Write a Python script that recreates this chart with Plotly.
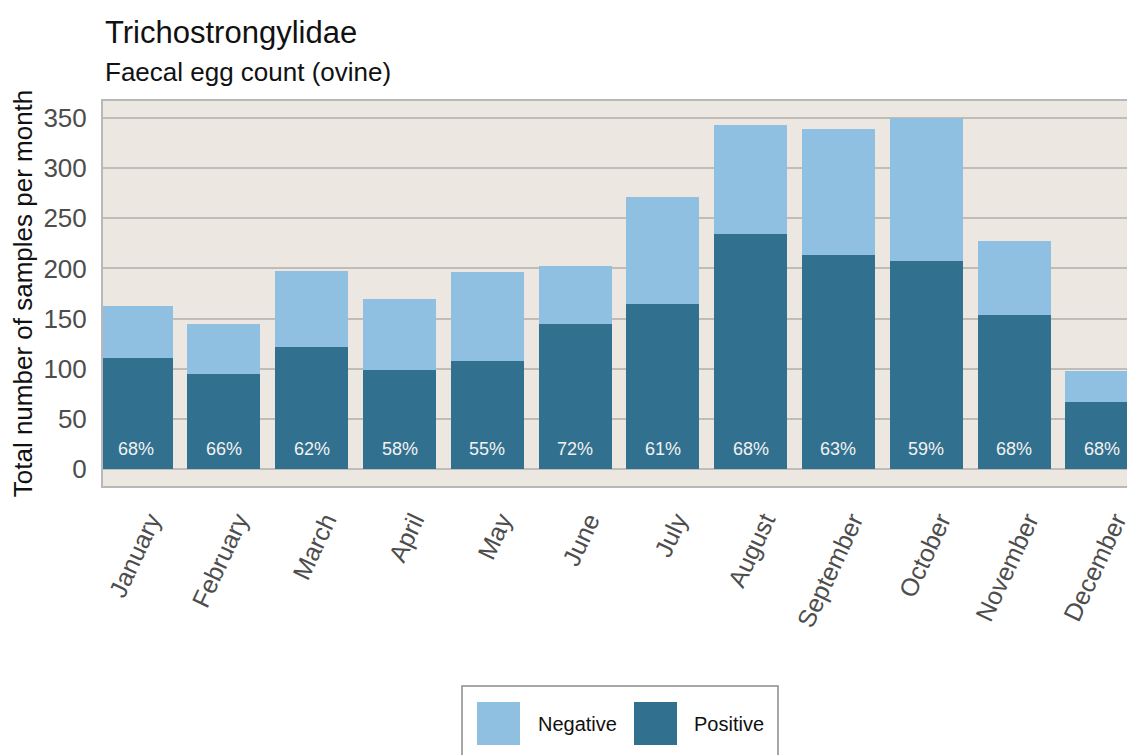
import plotly.graph_objects as go

# Monthly faecal egg count results (ovine), Trichostrongylidae
months = ["January", "February", "March", "April", "May", "June",
          "July", "August", "September", "October", "November", "December"]
positive = [111, 95, 122, 99, 108, 145, 165, 234, 213, 207, 154, 67]
negative = [52, 50, 75, 71, 88, 57, 106, 109, 126, 143, 73, 31]

pct_labels = [f"{round(100 * p / (p + n))}%" for p, n in zip(positive, negative)]

FONT = "Liberation Sans, Arial, sans-serif"
C_NEG = "#8fc0e2"
C_POS = "#31708f"

W, H = 1127, 755
L, R, T = 103, 0, 101
B = H - 486


def px_x(px):
    # screen pixel -> paper x
    return (px - L) / (W - L - R)


def px_y(py):
    # screen pixel -> paper y
    return (H - B - py) / (H - T - B)


fig = go.Figure()
fig.add_trace(go.Bar(x=months, y=positive, name="Positive",
                     marker=dict(color=C_POS, line=dict(width=0)),
                     showlegend=False))
fig.add_trace(go.Bar(x=months, y=negative, name="Negative",
                     marker=dict(color=C_NEG, line=dict(width=0)),
                     showlegend=False))

# percentage positive, near the bottom of each bar
for m, lab in zip(months, pct_labels):
    fig.add_annotation(x=m, y=0, text=lab, showarrow=False,
                       yanchor="middle", yshift=20,
                       font=dict(family=FONT, size=18, color="#f2f2f2"))

# title + subtitle
fig.add_annotation(xref="paper", yref="paper", x=0, y=1, xanchor="left",
                   yanchor="bottom", yshift=49, showarrow=False,
                   text="Trichostrongylidae",
                   font=dict(family=FONT, size=31, color="#111111"))
fig.add_annotation(xref="paper", yref="paper", x=0, y=1, xanchor="left",
                   yanchor="bottom", yshift=12, showarrow=False,
                   text="Faecal egg count (ovine)",
                   font=dict(family=FONT, size=26, color="#111111"))

# hand-drawn legend with big swatches
fig.add_shape(type="rect", xref="paper", yref="paper",
              x0=px_x(462), x1=px_x(778), y0=px_y(775), y1=px_y(686),
              line=dict(color="#8a8a8a", width=1.5), fillcolor="white")
for name, col, sx, tx in [("Negative", C_NEG, 477, 536), ("Positive", C_POS, 634, 692)]:
    fig.add_shape(type="rect", xref="paper", yref="paper",
                  x0=px_x(sx), x1=px_x(sx + 43), y0=px_y(745), y1=px_y(702),
                  line=dict(width=0), fillcolor=col)
    fig.add_annotation(xref="paper", yref="paper", x=px_x(tx), y=px_y(724),
                       xanchor="left", yanchor="middle", showarrow=False,
                       text=name, font=dict(family=FONT, size=20, color="#111111"))

fig.update_layout(
    width=W, height=H, barmode="stack", bargap=0.168,
    paper_bgcolor="white", plot_bgcolor="#ece8e1",
    margin=dict(l=L, r=R, t=T, b=B, autoexpand=False),
    font=dict(family=FONT, color="#4d4d4d"),
    showlegend=False,
)
fig.update_xaxes(
    type="category", range=[-0.378, 11.287], tickangle=-65,
    tickfont=dict(family=FONT, size=25, color="#4d4d4d"),
    showgrid=False, showline=True, mirror=True, linecolor="#b8b8b8", linewidth=2,
    ticks="", ticklabelshift=14, ticklabelstandoff=8,
)
fig.update_yaxes(
    range=[-17, 367], tickvals=[0, 50, 100, 150, 200, 250, 300, 350],
    tickfont=dict(family=FONT, size=26, color="#4d4d4d"),
    showgrid=True, gridcolor="#c0bdb8", gridwidth=2, zeroline=False,
    showline=True, linecolor="#b8b8b8", linewidth=2,
    ticks="", ticklabelstandoff=9,
    title=dict(text="Total number of samples per month", standoff=3,
               font=dict(family=FONT, size=26, color="#111111")),
)

# drop the default page margin so the figure fills the window
fig.write_html("out.html", config={"displayModeBar": False},
               post_script="document.body.style.margin='0';document.body.style.overflow='hidden';")
